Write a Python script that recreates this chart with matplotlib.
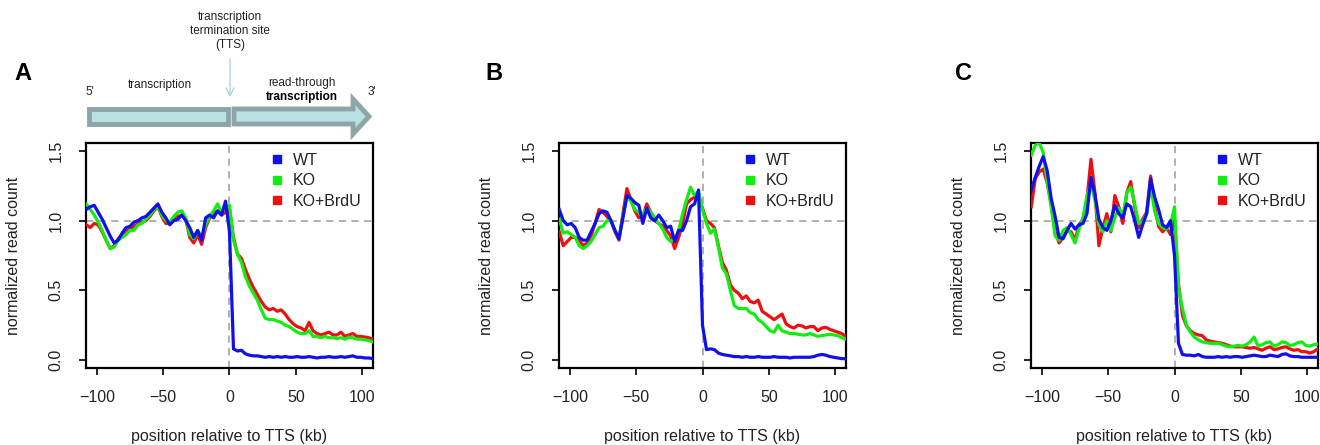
import numpy as np
import matplotlib
matplotlib.use('Agg')
import matplotlib.pyplot as plt
from matplotlib.patches import Polygon

plt.rcParams['font.family'] = ['Liberation Sans', 'DejaVu Sans']

# positions relative to TTS (kb), one value every 3 kb
pos = np.arange(-108, 109, 3)

# panel A
a_wt = [1.08, 1.10, 1.11, 1.06, 1.01, 0.95, 0.89, 0.84, 0.86, 0.91, 0.95, 0.96, 0.99, 1.00, 1.02, 1.03, 1.06, 1.09, 1.12, 1.06,
        1.02, 0.97, 1.00, 1.01, 1.04, 1.00, 0.95, 0.88, 0.93, 0.86, 1.02, 1.04, 1.02, 1.07, 1.04, 1.14, 0.92, 0.08, 0.065, 0.07,
        0.045, 0.035, 0.03, 0.03, 0.025, 0.02, 0.025, 0.02, 0.025, 0.02, 0.025, 0.02, 0.02, 0.025, 0.02, 0.02, 0.025, 0.02, 0.015, 0.02,
        0.02, 0.025, 0.02, 0.02, 0.025, 0.02, 0.025, 0.03, 0.02, 0.02, 0.015, 0.015, 0.01]
a_ko = [1.12, 1.08, 1.04, 0.99, 0.93, 0.86, 0.80, 0.81, 0.86, 0.88, 0.90, 0.93, 0.93, 0.97, 0.98, 1.01, 1.04, 1.08, 1.10, 1.04,
        1.00, 0.99, 1.03, 1.06, 1.07, 1.02, 0.90, 0.87, 0.93, 0.88, 0.97, 1.03, 1.07, 1.12, 1.06, 1.10, 1.11, 0.86, 0.76, 0.70,
        0.60, 0.53, 0.48, 0.43, 0.36, 0.30, 0.29, 0.29, 0.28, 0.27, 0.25, 0.24, 0.22, 0.20, 0.19, 0.19, 0.21, 0.17, 0.17, 0.16,
        0.17, 0.16, 0.16, 0.155, 0.16, 0.15, 0.165, 0.16, 0.15, 0.15, 0.145, 0.14, 0.13]
a_brdu = [0.97, 0.95, 0.98, 0.97, 0.92, 0.86, 0.80, 0.82, 0.87, 0.90, 0.92, 0.94, 0.96, 0.98, 0.99, 1.00, 1.03, 1.07, 1.10, 1.03,
          0.98, 0.98, 1.01, 1.03, 1.04, 1.01, 0.88, 0.84, 0.90, 0.83, 0.95, 1.02, 1.05, 1.07, 1.04, 1.06, 1.08, 0.88, 0.76, 0.73,
          0.65, 0.58, 0.52, 0.47, 0.42, 0.38, 0.36, 0.37, 0.35, 0.36, 0.33, 0.29, 0.26, 0.24, 0.23, 0.21, 0.27, 0.21, 0.19, 0.18,
          0.19, 0.20, 0.18, 0.18, 0.20, 0.17, 0.18, 0.19, 0.17, 0.17, 0.165, 0.16, 0.15]

# panel B
b_wt = [1.08, 1.00, 0.97, 0.98, 0.95, 0.88, 0.86, 0.86, 0.92, 0.98, 1.05, 1.07, 1.06, 1.00, 0.93, 0.87, 1.02, 1.18, 1.16, 1.13,
        1.11, 0.98, 1.09, 1.02, 1.00, 1.04, 1.00, 0.95, 0.96, 0.85, 0.93, 0.93, 1.00, 1.10, 1.12, 1.22, 0.25, 0.075, 0.08, 0.075,
        0.05, 0.04, 0.035, 0.03, 0.025, 0.025, 0.02, 0.025, 0.02, 0.02, 0.025, 0.02, 0.02, 0.02, 0.025, 0.02, 0.02, 0.02, 0.015, 0.02,
        0.02, 0.02, 0.02, 0.02, 0.025, 0.035, 0.04, 0.035, 0.025, 0.02, 0.015, 0.01, 0.01]
b_ko = [1.01, 0.91, 0.92, 0.90, 0.88, 0.82, 0.80, 0.82, 0.85, 0.90, 0.95, 0.96, 1.00, 1.00, 0.93, 0.87, 1.03, 1.17, 1.14, 1.08,
        1.06, 1.05, 1.09, 1.06, 1.02, 0.98, 0.94, 0.88, 0.85, 0.87, 0.93, 1.05, 1.15, 1.24, 1.18, 1.21, 1.08, 0.98, 0.91, 0.94,
        0.81, 0.66, 0.62, 0.50, 0.39, 0.37, 0.37, 0.37, 0.34, 0.33, 0.29, 0.27, 0.24, 0.21, 0.20, 0.25, 0.21, 0.20, 0.19, 0.19,
        0.185, 0.18, 0.18, 0.19, 0.18, 0.17, 0.175, 0.18, 0.185, 0.18, 0.175, 0.16, 0.15]
b_brdu = [0.92, 0.82, 0.85, 0.88, 0.88, 0.86, 0.82, 0.84, 0.89, 0.98, 1.08, 1.06, 1.03, 1.00, 0.92, 0.86, 1.05, 1.23, 1.15, 1.07,
          1.02, 1.03, 1.12, 1.06, 1.00, 0.98, 0.96, 0.93, 0.89, 0.80, 0.88, 0.98, 1.12, 1.15, 1.17, 1.16, 1.09, 1.00, 0.98, 0.95,
          0.82, 0.70, 0.645, 0.54, 0.50, 0.48, 0.44, 0.46, 0.42, 0.41, 0.43, 0.35, 0.33, 0.31, 0.29, 0.31, 0.33, 0.26, 0.24, 0.23,
          0.25, 0.245, 0.23, 0.24, 0.24, 0.21, 0.23, 0.235, 0.22, 0.21, 0.20, 0.19, 0.17]

# panel C
c_wt = [1.22, 1.31, 1.39, 1.46, 1.36, 1.16, 1.03, 0.88, 0.87, 0.93, 0.98, 0.94, 0.97, 0.98, 1.05, 1.31, 1.19, 1.01, 0.95, 0.93,
        1.00, 1.11, 1.05, 1.02, 1.12, 1.10, 1.00, 0.88, 0.97, 1.05, 1.30, 1.17, 1.08, 0.97, 0.95, 1.00, 0.75, 0.12, 0.04, 0.035,
        0.035, 0.03, 0.04, 0.025, 0.02, 0.02, 0.02, 0.025, 0.02, 0.025, 0.02, 0.025, 0.025, 0.02, 0.025, 0.03, 0.035, 0.03, 0.025, 0.025,
        0.035, 0.03, 0.025, 0.04, 0.045, 0.03, 0.025, 0.025, 0.02, 0.02, 0.02, 0.02, 0.02]
c_ko = [1.47, 1.54, 1.56, 1.49, 1.28, 1.10, 0.89, 0.86, 0.93, 0.95, 0.90, 0.84, 0.94, 1.02, 1.18, 1.26, 1.15, 0.97, 0.92, 1.00,
        0.93, 1.02, 1.09, 1.03, 1.20, 1.24, 1.12, 0.98, 0.99, 1.05, 1.25, 1.07, 0.98, 0.95, 0.94, 0.97, 1.10, 0.52, 0.37, 0.25,
        0.20, 0.165, 0.145, 0.13, 0.125, 0.12, 0.12, 0.12, 0.11, 0.10, 0.095, 0.10, 0.105, 0.10, 0.11, 0.13, 0.165, 0.10, 0.11, 0.125,
        0.13, 0.10, 0.11, 0.13, 0.125, 0.105, 0.11, 0.125, 0.13, 0.105, 0.10, 0.11, 0.115]
c_brdu = [1.10, 1.30, 1.35, 1.37, 1.27, 1.12, 0.92, 0.84, 0.88, 0.93, 0.92, 0.86, 0.97, 1.01, 1.15, 1.44, 1.20, 0.82, 0.95, 1.05,
          0.92, 1.18, 1.10, 0.98, 1.20, 1.28, 1.10, 0.95, 1.01, 1.06, 1.32, 1.10, 0.96, 0.92, 0.95, 0.90, 1.00, 0.55, 0.32, 0.245,
          0.21, 0.19, 0.18, 0.175, 0.145, 0.135, 0.13, 0.125, 0.12, 0.11, 0.10, 0.095, 0.095, 0.095, 0.09, 0.085, 0.09, 0.08, 0.07, 0.085,
          0.095, 0.075, 0.08, 0.09, 0.095, 0.08, 0.07, 0.075, 0.06, 0.06, 0.05, 0.06, 0.08]

panels = [('A', a_wt, a_ko, a_brdu), ('B', b_wt, b_ko, b_brdu), ('C', c_wt, c_ko, c_brdu)]
series_names = ['WT', 'KO', 'KO+BrdU']
colors = ['#1010ee', '#10ee10', '#ee1010']

W, H = 1320, 445
fig = plt.figure(figsize=(W / 100, H / 100), dpi=100)

lefts = [86, 559, 1031]
letter_x = [23, 494, 964]
txt = '#222222'

for (letter, wt, ko, brdu), left, lx in zip(panels, lefts, letter_x):
    ax = fig.add_axes([left / W, 1 - 368 / H, 287 / W, 225 / H])
    ax.axhline(1.0, color='#aaaaaa', lw=1.3, ls=(0, (4, 3)), zorder=1)
    ax.axvline(0, color='#aaaaaa', lw=1.3, ls=(0, (4, 3)), zorder=1)
    ax.plot(pos, brdu, color=colors[2], lw=2.3, label=series_names[2], zorder=3)
    ax.plot(pos, ko, color=colors[1], lw=2.3, label=series_names[1], zorder=4)
    ax.plot(pos, wt, color=colors[0], lw=2.3, label=series_names[0], zorder=5)
    ax.set_xlim(-108.2, 108.2)
    ax.set_ylim(-0.057, 1.557)
    ax.set_xticks([-100, -50, 0, 50, 100])
    ax.set_yticks([0, 0.5, 1.0, 1.5])
    ax.set_yticklabels(['0.0', '0.5', '1.0', '1.5'], rotation=90, va='center')
    ax.tick_params(axis='x', length=5, width=1.2, pad=11, labelsize=11.5, colors='black', labelcolor=txt)
    ax.tick_params(axis='y', length=5, width=1.2, pad=11, labelsize=11.5, colors='black', labelcolor=txt)
    for s in ax.spines.values():
        s.set_linewidth(1.6)
    ax.set_xlabel('position relative to TTS (kb)', fontsize=11.5, color=txt, labelpad=17)
    ax.set_ylabel('normalized read count', fontsize=11.5, color=txt, labelpad=20)
    h = [plt.Line2D([], [], color=c, marker='s', ls='none', markersize=6) for c in colors]
    ax.legend(h, series_names, loc='upper left', bbox_to_anchor=(0.62, 0.985), frameon=False,
              fontsize=11.5, handlelength=0.8, handletextpad=0.6, labelspacing=0.35, borderaxespad=0,
              labelcolor=txt)
    fig.text(lx / W, 1 - 74 / H, letter, fontsize=17, fontweight='bold', ha='center', va='center')

# schematic above panel A (figure pixel coordinates)
ov = fig.add_axes([0, 0, 1, 1], zorder=-1)
ov.set_xlim(0, W)
ov.set_ylim(H, 0)
ov.axis('off')
fill = '#b9e0e3'
edge = '#8ea5a7'
ov.add_patch(Polygon([[89, 109], [228, 109], [228, 124], [89, 124]], closed=True,
                     facecolor=fill, edgecolor=edge, lw=3.5))
ov.add_patch(Polygon([[234, 109], [353, 109], [353, 99], [369, 116.5], [353, 134], [353, 124], [234, 124]],
                     closed=True, facecolor=fill, edgecolor=edge, lw=3.5, joinstyle='miter'))
ov.annotate('', xy=(230, 100), xytext=(230, 56),
            arrowprops=dict(arrowstyle='->', color='#a9d6db', lw=1.0, mutation_scale=14))
ov.text(230, 31, 'transcription\ntermination site\n(TTS)', fontsize=8.5, ha='center', va='center',
        color=txt, linespacing=1.25)
ov.text(160, 85, 'transcription', fontsize=8.5, ha='center', va='center', color=txt)
ov.text(302, 83, 'read-through', fontsize=8.5, ha='center', va='center', color=txt)
ov.text(302, 97, 'transcription', fontsize=8.5, ha='center', va='center', color='black', fontweight='bold')
ov.text(90, 92, "5'", fontsize=8.5, ha='center', va='center', color=txt)
ov.text(372, 92, "3'", fontsize=8.5, ha='center', va='center', color=txt)

fig.savefig('out.png', dpi=100)
